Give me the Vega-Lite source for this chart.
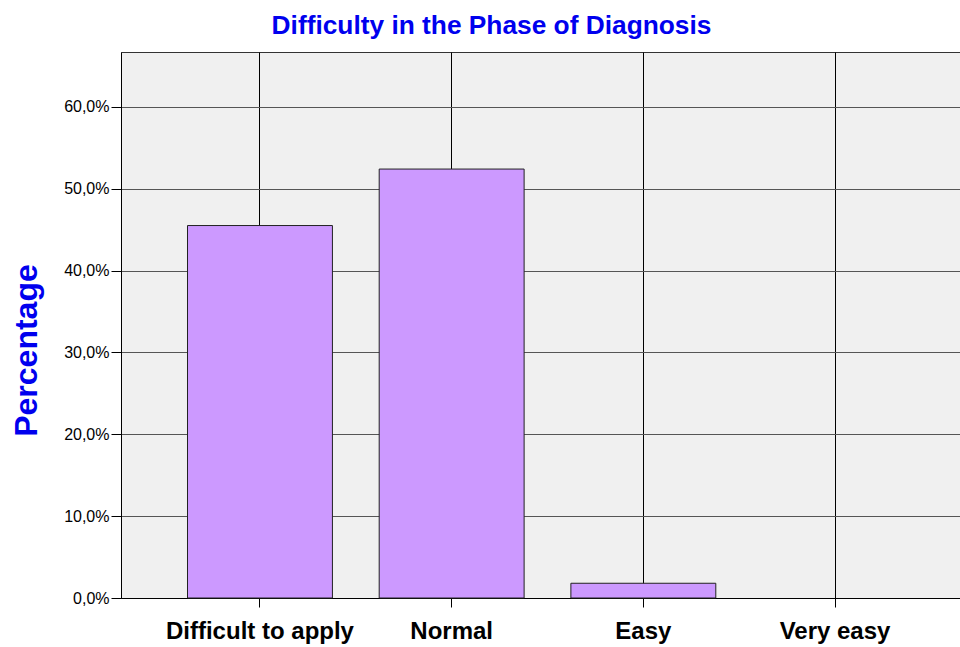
{
  "$schema": "https://vega.github.io/schema/vega-lite/v6.json",
  "autosize": "none",
  "padding": {"left": 121, "top": 52, "right": 0, "bottom": 49},
  "width": 853,
  "height": 546,
  "background": "white",
  "title": {
    "text": "Difficulty in the Phase of Diagnosis",
    "color": "#0000ee",
    "font": "Liberation Sans",
    "fontSize": 26.3,
    "fontWeight": "bold",
    "anchor": "middle",
    "frame": "group",
    "dx": -56,
    "offset": 13
  },
  "config": {
    "view": {"fill": "#f0f0f0", "stroke": "#333333", "strokeWidth": 1},
    "font": "Liberation Sans"
  },
  "data": {
    "values": [
      {"category": "Difficult to apply", "percent": 45.5},
      {"category": "Normal", "percent": 52.4},
      {"category": "Easy", "percent": 1.8},
      {"category": "Very easy", "percent": 0}
    ]
  },
  "mark": {"type": "bar", "fill": "#cc99ff", "stroke": "#222222"},
  "encoding": {
    "strokeWidth": {"condition": {"test": "datum.percent > 0", "value": 1}, "value": 0},
    "fillOpacity": {"condition": {"test": "datum.percent > 0", "value": 1}, "value": 0},
    "x": {
      "field": "category",
      "type": "nominal",
      "sort": null,
      "scale": {"paddingInner": 0.244, "paddingOuter": 0.347},
      "axis": {
        "title": null,
        "labelAngle": 0,
        "labelLimit": 0,
        "labelOverlap": false,
        "labelFont": "Liberation Sans",
        "labelFontSize": 24,
        "labelFontWeight": "bold",
        "labelColor": "#000000",
        "labelPadding": 12,
        "tickColor": "#000000",
        "tickSize": 9,
        "domainColor": "#000000",
        "grid": true,
        "gridColor": "#000000",
        "gridWidth": 1,
        "bandPosition": 0.5
      }
    },
    "y": {
      "field": "percent",
      "type": "quantitative",
      "scale": {"domain": [0, 66.7], "nice": false},
      "axis": {
        "title": "Percentage",
        "titleColor": "#0000ee",
        "titleFont": "Liberation Sans",
        "titleFontSize": 32,
        "titleFontWeight": "bold",
        "titleAngle": -90,
        "titleAlign": "center",
        "titleBaseline": "alphabetic",
        "titleX": -85,
        "titleY": 298,
        "values": [0, 10, 20, 30, 40, 50, 60],
        "labelExpr": "replace(format(datum.value, '.1f'), '.', ',') + '%'",
        "labelFont": "Liberation Sans",
        "labelFontSize": 16,
        "labelColor": "#000000",
        "labelPadding": 2,
        "tickColor": "#000000",
        "tickSize": 10,
        "domainColor": "#000000",
        "grid": true,
        "gridColor": "#555555",
        "gridWidth": 1
      }
    }
  }
}
